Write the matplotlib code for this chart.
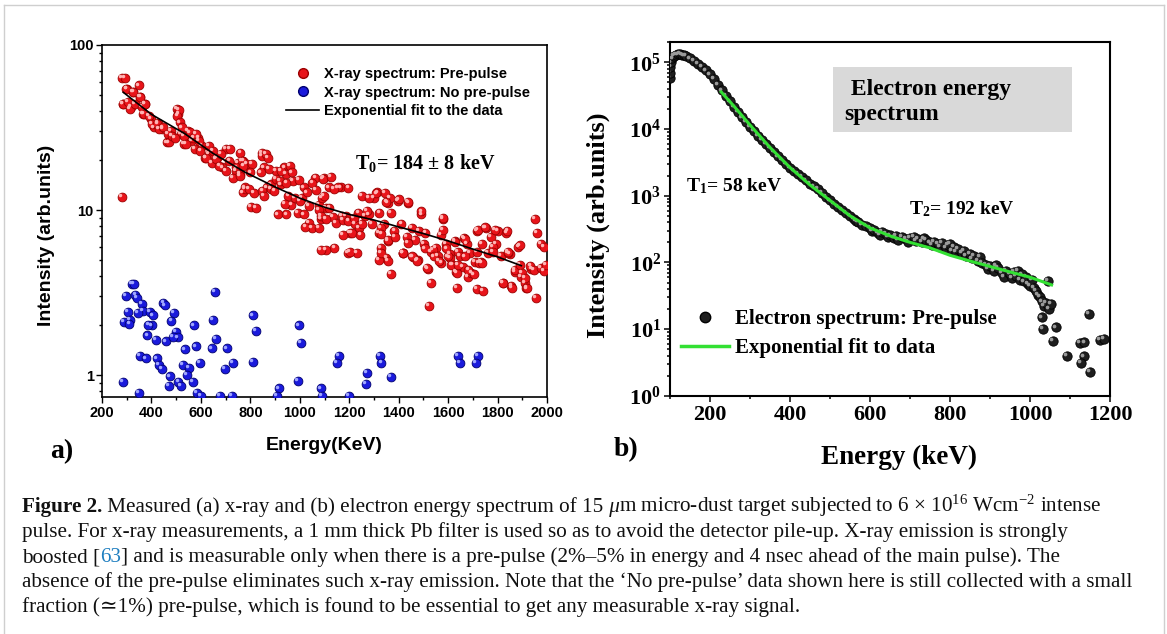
import matplotlib
matplotlib.use("Agg")
import matplotlib.pyplot as plt
from matplotlib.lines import Line2D
from matplotlib.patches import Rectangle
from matplotlib.ticker import MultipleLocator, FuncFormatter, NullFormatter, LogLocator
from matplotlib.transforms import ScaledTranslation

# ---------------- panel a: x-ray spectra (keV, arb. units) ----------------
red_pts = [
    (281, 63), (300, 54), (284, 44), (281, 12), (325, 51.8), (350, 56.9), (316, 42), (353, 48.3),
    (374, 44), (367, 38.2), (398, 35.6), (409, 31.7), (425, 33.6), (444, 31), (462, 25.7), (478, 30.3),
    (503, 40.8), (509, 38.2), (520, 28.9), (531, 25.1), (548, 30.3), (562, 26.3), (576, 23.4), (590, 27.5),
    (604, 24.5), (618, 20.8), (632, 21.8), (643, 19.4), (666, 20.8), (687, 18.1), (701, 23.4), (715, 19.9),
    (750, 19.4), (760, 22.3), (743, 17.3), (778, 13.7), (771, 12.8), (803, 10.5), (847, 22.3), (847, 21.3),
    (854, 18.1), (868, 13.7), (882, 14.3), (903, 17.3), (913, 9.4), (924, 14.3), (938, 18.1), (945, 16.5),
    (954, 12.2), (966, 10.8), (973, 15), (993, 9.6), (1007, 11.9), (1018, 13.7), (1028, 12.8), (1038, 8.4),
    (1049, 7.8), (1063, 15.7), (1077, 10.8), (1084, 8.8), (1091, 11.9), (1098, 15.7), (1105, 10.3),
    (1119, 13.7), (1133, 9.1), (1140, 5.9), (1147, 8.4), (1167, 13.7), (1188, 9.2), (1195, 5.5), (1202, 7.3),
    (1223, 8.2), (1237, 9.6), (1251, 12.2), (1265, 9.2), (1279, 9.4), (1293, 8.2), (1300, 11.9), (1314, 12.8),
    (1321, 7.3), (1328, 5.9), (1341, 8.2), (1355, 11.1), (1369, 9.6), (1383, 7.5), (1397, 11.4), (1411, 8.2),
    (1418, 5.5), (1432, 6.9), (1439, 11.1), (1453, 7.8), (1467, 6.6), (1481, 7.5), (1492, 9.4), (1502, 6.2),
    (1508, 7.3), (1529, 5.6), (1550, 5.9), (1571, 7.1), (1578, 8.8), (1592, 6.2), (1606, 5.4), (1627, 6.5),
    (1641, 5.6), (1664, 6.8), (1676, 6.2), (1689, 5.5), (1717, 7.5), (1738, 6.2), (1752, 7.8), (1773, 6.9),
    (1794, 6.2), (1801, 7.5), (1836, 7.3), (1849, 5.4), (1884, 6.0), (1951, 8.8), (1958, 7.3), (1975, 6.2),
    (1989, 6.0),
    (292, 63.3), (299, 54.3), (327, 51.8), (285, 44), (306, 45), (313, 41), (334, 44), (355, 48.3),
    (362, 42), (375, 44), (368, 38.2), (389, 37.3), (403, 33.2), (424, 33.2), (431, 31), (445, 31.7),
    (466, 28.9), (470, 25.7), (484, 28.2), (494, 27.5), (512, 40.5), (505, 37.3), (515, 34), (522, 31.7),
    (531, 28.2), (540, 25.1), (556, 29.5), (570, 27.5), (581, 28.9), (591, 26.3), (598, 22.9), (619, 20.8),
    (633, 24.5), (647, 22.9), (661, 20.4), (675, 18.5), (682, 21.8), (702, 17.3), (717, 23.4), (730, 15.7),
    (744, 18.1), (758, 16.5), (772, 19.9), (779, 13.4), (786, 19),
    (765, 19.9), (772, 18.5), (807, 19), (800, 16.9), (758, 16.1), (863, 21.8), (870, 20.8), (842, 16.9),
    (876, 17.7), (904, 15.4), (925, 17.3), (960, 18.5), (967, 16.9), (995, 15.2), (793, 13.4), (814, 12.7),
    (849, 13.1), (856, 12.2), (884, 13.4), (897, 13.1), (918, 15), (946, 14.6), (1051, 14.6), (1092, 15.4),
    (1127, 15.9), (1064, 13.2), (1099, 12.2), (1155, 13.7), (1197, 13.6), (1138, 13.4), (821, 10.3),
    (939, 10.9), (946, 9.4), (981, 11.9), (1002, 11.4), (1016, 9.4), (1036, 10.6), (1078, 10), (1085, 9.2),
    (1106, 8.8), (1120, 10.3), (1169, 9.2), (1175, 8.7), (1197, 8.6), (1218, 9.0), (1239, 7.8), (1252, 8.2),
    (1175, 7.1), (1211, 7.3), (1245, 7.1), (1273, 9.9), (1280, 11.9), (1322, 9.6), (1329, 7.8), (1357, 6.5),
    (1364, 11.9), (1343, 12.7), (1023, 7.9), (1078, 7.8), (1106, 5.7), (1231, 5.5), (1350, 5.1), (1357, 4.9),
    (1310, 12.6), (1350, 11.2), (1400, 11.6), (1438, 11.2), (1492, 9.8), (1579, 9.0), (1579, 7.6),
    (1627, 6.4), (1667, 6.7), (1721, 7.6), (1748, 7.85), (1788, 7.6), (1840, 7.45), (1890, 6.1), (1330, 7.2),
    (1357, 6.6), (1384, 6.9), (1418, 5.5), (1438, 6.3), (1458, 5.2), (1478, 5.0), (1505, 5.85), (1519, 4.4),
    (1539, 5.7), (1559, 5.3), (1573, 4.8), (1593, 5.85), (1606, 5.1), (1620, 4.65), (1633, 4.2), (1647, 5.3),
    (1660, 4.5), (1680, 3.95), (1694, 4.15), (1707, 4.85), (1734, 4.85), (1761, 5.5), (1782, 6.0), (1815, 5.3),
    (1822, 3.6), (1842, 5.5), (1856, 3.45), (1869, 4.2), (1896, 3.95), (1910, 3.6), (1917, 3.35), (1937, 4.4),
    (1084, 5.74), (1202, 5.6), (1321, 5.0), (1328, 5.5), (1369, 4.12), (1418, 5.5), (1453, 5.23), (1474, 4.9),
    (1515, 4.46), (1522, 2.62), (1529, 3.61), (1543, 5.23), (1564, 4.9), (1599, 5.23), (1613, 4.66),
    (1634, 4.16), (1641, 4.66), (1634, 3.37), (1669, 5.23), (1682, 4.36), (1703, 4.07), (1717, 5.6),
    (1724, 4.77), (1717, 3.33), (1742, 3.22), (1738, 4.77), (1780, 5.6), (1822, 3.61), (1843, 5.6),
    (1857, 3.37), (1870, 4.36), (1891, 4.66), (1898, 4.16), (1912, 3.88), (1919, 3.37), (1933, 4.56),
    (1947, 4.36), (1954, 2.93), (1975, 4.46), (1989, 4.26), (1996, 4.66),
]
blue_pts = [
    (322, 3.57), (329, 3.57), (297, 3.0), (335, 3.05), (342, 2.94), (304, 2.41), (314, 2.15), (290, 2.1),
    (311, 2.03), (360, 2.7), (364, 2.46), (346, 2.38), (395, 2.42), (406, 2.3), (402, 2.0), (388, 2.02),
    (384, 1.74), (417, 1.63), (459, 1.6), (448, 2.74), (455, 2.64), (492, 2.38), (481, 2.13), (498, 1.82),
    (507, 1.69), (487, 1.71), (534, 1.43), (573, 2.0), (580, 1.49), (597, 1.18), (650, 2.15), (657, 3.19),
    (643, 1.45), (662, 1.66), (353, 1.3), (378, 1.26), (423, 1.26), (430, 1.15), (441, 1.09), (527, 1.15),
    (551, 1.1), (542, 1.0), (476, 0.98), (509, 0.91), (520, 0.86), (470, 0.86), (567, 0.91), (286, 0.91),
    (350, 0.78), (583, 0.78), (601, 0.75), (676, 0.75), (726, 0.75), (704, 1.45), (729, 1.18), (698, 1.09),
    (812, 2.3), (822, 1.85), (810, 1.2), (996, 2.0), (1003, 1.57), (991, 0.92), (917, 0.83), (907, 0.75),
    (1084, 0.83), (1088, 0.75), (1158, 1.3), (1151, 1.18), (1199, 0.75), (1272, 1.03), (1268, 0.88),
    (1325, 1.3), (1330, 1.18), (1369, 0.97), (1641, 1.3), (1648, 1.18), (1721, 1.3), (1714, 1.18),
]
fit_a_e = [286, 400, 535, 650, 777, 900, 1000, 1100, 1200, 1300, 1400, 1500, 1600, 1700, 1800, 1896]
fit_a_v = [51.7, 38, 29, 22, 17, 13.8, 11.8, 10.4, 9.4, 8.7, 7.9, 7.2, 6.5, 5.8, 5.2, 4.6]
legend_a = ["X-ray spectrum: Pre-pulse", "X-ray spectrum: No pre-pulse", "Exponential fit to the data"]

# ---------------- panel b: electron spectrum ----------------
el_pts = [
    (100, 5.8e4), (100, 7.0e4), (101, 8.5e4), (103, 1.0e5), (106, 1.15e5), (110, 1.25e5), (115, 1.3e5),
    (120, 1.32e5), (125, 1.33e5), (130, 1.3e5), (135, 1.27e5), (140, 1.24e5), (150, 1.15e5), (160, 1.06e5),
    (170, 9.6e4), (180, 8.6e4), (190, 7.6e4), (200, 6.6e4), (210, 5.6e4), (220, 4.6e4), (230, 3.8e4),
    (240, 3.1e4), (250, 2.6e4), (260, 2.15e4), (270, 1.8e4), (280, 1.5e4), (290, 1.28e4), (300, 1.08e4),
    (310, 9.3e3), (320, 8.0e3), (330, 6.9e3), (340, 6.0e3), (350, 5.2e3), (360, 4.5e3), (370, 3.9e3),
    (380, 3.4e3), (390, 3.0e3), (400, 2.65e3), (410, 2.35e3), (420, 2.1e3), (430, 1.9e3), (440, 1.7e3),
    (450, 1.52e3), (460, 1.38e3), (470, 1.25e3), (480, 1.1e3), (490, 960), (500, 850), (510, 760),
    (520, 680), (530, 610), (540, 550), (550, 500), (560, 450), (565, 420), (570, 400), (580, 370),
    (590, 350), (600, 330), (605, 300), (610, 310), (620, 280), (625, 260), (630, 290), (640, 265),
    (645, 240), (650, 255), (660, 235), (665, 250), (670, 215), (680, 240), (690, 225), (695, 205),
    (700, 235), (710, 240), (715, 210), (720, 225), (730, 205), (735, 230), (740, 215), (750, 200),
    (755, 185), (760, 205), (770, 190), (775, 170), (780, 195), (790, 165), (795, 185), (800, 190),
    (805, 150), (810, 170), (815, 145), (820, 160), (830, 140), (835, 150), (840, 125), (850, 135),
    (855, 115), (860, 125), (870, 105), (875, 120), (880, 98), (890, 92), (895, 80), (900, 88), (910, 75),
    (915, 90), (920, 82), (930, 70), (935, 60), (940, 75), (950, 68), (955, 58), (960, 72), (965, 62),
    (970, 74), (975, 55), (980, 66), (985, 52), (990, 60), (995, 48), (1000, 45), (1005, 55), (1010, 41),
    (1015, 37), (1020, 33), (1025, 30), (1030, 26), (1035, 22), (1040, 25), (1045, 53), (1048, 20),
    (1052, 24), (1030, 15), (1033, 10.1), (1065, 10.6), (1057, 6.7), (1092, 4.0), (1125, 6.2), (1136, 6.3),
    (1134, 3.9), (1127, 3.1), (1148, 16.8), (1149, 2.3), (1175, 6.9), (1184, 7.1),
]
fit_b_e = [228, 260, 300, 350, 400, 450, 500, 550, 600, 650, 700, 750, 800, 850, 900, 950, 1000, 1054]
fit_b_v = [3.6e4, 2.2e4, 1.15e4, 5.3e3, 2.65e3, 1.45e3, 850, 500, 330, 250, 200, 165, 128, 105, 87, 72, 60, 46]
legend_b = ["Electron spectrum: Pre-pulse", "Exponential fit to data"]

red_e = [p[0] for p in red_pts]
red_v = [p[1] for p in red_pts]
blue_e = [p[0] for p in blue_pts]
blue_v = [p[1] for p in blue_pts]
el_e = [p[0] for p in el_pts]
el_v = [p[1] for p in el_pts]

SANS = "Liberation Sans"
SERIF = ["Liberation Serif", "DejaVu Serif"]
plt.rcParams["mathtext.default"] = "regular"
plt.rcParams["font.family"] = SANS
plt.rcParams["font.weight"] = "bold"
plt.rcParams["axes.labelweight"] = "bold"

W, H = 1167, 634
fig = plt.figure(figsize=(W / 100, H / 100), dpi=100)


def frac(x0, y0, x1, y1):
    # pixel box (top-left origin) -> figure fraction rect
    return [x0 / W, 1 - y1 / H, (x1 - x0) / W, (y1 - y0) / H]


def balls(ax, x, y, face, edge, shine, size):
    ax.scatter(x, y, s=size, c=face, edgecolors=edge, linewidths=0.6, zorder=3)
    glint = ax.transData + ScaledTranslation(-1.3 / 72, 1.3 / 72, fig.dpi_scale_trans)
    ax.scatter(x, y, s=size * 0.16, c=shine, linewidths=0, zorder=3, transform=glint)


def bold_ticks(ax):
    for lab in ax.get_xticklabels() + ax.get_yticklabels():
        lab.set_fontweight("bold")


# --- panel a ---
ax1 = fig.add_axes(frac(102, 45, 547, 397.3))
balls(ax1, red_e, red_v, "#e8141a", "#9c0000", "#ffb4b4", 40)
balls(ax1, blue_e, blue_v, "#1a1adc", "#00006e", "#a0a6ff", 40)
ax1.plot(fit_a_e, fit_a_v, color="black", lw=1.2, zorder=4)
ax1.set_yscale("log")
ax1.set_xlim(200, 2000)
ax1.set_ylim(0.733, 100)
ax1.xaxis.set_major_locator(MultipleLocator(200))
ax1.xaxis.set_minor_locator(MultipleLocator(100))
ax1.yaxis.set_major_formatter(FuncFormatter(lambda v, p: "%g" % v))
ax1.yaxis.set_minor_formatter(NullFormatter())
ax1.tick_params(which="both", direction="out", width=1, labelsize=10.5, pad=2)
ax1.tick_params(which="major", length=4)
ax1.tick_params(which="minor", length=2.5)
bold_ticks(ax1)
for sp in ax1.spines.values():
    sp.set_linewidth(1.2)
ax1.set_xlabel("Energy(KeV)", fontsize=14, fontweight="bold", va="center")
ax1.xaxis.set_label_coords(0.5, -0.138)
ax1.set_ylabel("Intensity (arb.units)", fontsize=14, fontweight="bold", va="center")
ax1.yaxis.set_label_coords(-0.124, 0.461)

hand_a = [
    Line2D([], [], ls="none", marker="o", ms=7, mfc="#e8141a", mec="#9c0000"),
    Line2D([], [], ls="none", marker="o", ms=7, mfc="#1a1adc", mec="#00006e"),
    Line2D([], [], color="black", lw=1.2),
]
ax1.legend(hand_a, legend_a, loc="upper left", bbox_to_anchor=(0.413, 0.937), frameon=False,
           borderpad=0, borderaxespad=0, handlelength=2.3, handletextpad=0.3, labelspacing=0.3,
           prop=dict(family=SANS, weight="bold", size=10.5))
ax1.text(0.569, 0.664, "T$_0$= 184 ± 8 keV", transform=ax1.transAxes, family=SERIF,
         fontsize=14.5, fontweight="bold", ha="left", va="center")

# --- panel b ---
ax2 = fig.add_axes(frac(670, 42.3, 1110, 395.8))
ax2.add_patch(Rectangle((0.371, 0.747), 0.543, 0.184, transform=ax2.transAxes,
                        facecolor="#d9d9d9", edgecolor="none", zorder=1))
ax2.text(0.397, 0.83, " Electron energy\nspectrum", transform=ax2.transAxes, family=SERIF,
         fontsize=17, fontweight="bold", ha="left", va="center", linespacing=1.25, zorder=2)
balls(ax2, el_e, el_v, "#1e1e1e", "#000000", "#9a9a9a", 45)
ax2.plot(fit_b_e, fit_b_v, color="#33e033", lw=2.2, zorder=4)
ax2.set_yscale("log")
ax2.set_xlim(100, 1200)
ax2.set_ylim(1, 2.0e5)
ax2.xaxis.set_major_locator(MultipleLocator(200))
ax2.xaxis.set_minor_locator(MultipleLocator(100))
ax2.yaxis.set_major_locator(LogLocator(base=10, numticks=10))
ax2.yaxis.set_minor_locator(LogLocator(base=10, subs=range(2, 10), numticks=20))
ax2.yaxis.set_minor_formatter(NullFormatter())
ax2.tick_params(which="both", direction="out", width=1.1, labelsize=16, pad=2, labelfontfamily=SERIF[0])
ax2.tick_params(which="major", length=4.5)
ax2.tick_params(which="minor", length=2.5)
bold_ticks(ax2)
for sp in ax2.spines.values():
    sp.set_linewidth(1.5)
ax2.set_xlabel("Energy (keV)", family=SERIF, fontsize=19.5, fontweight="bold", va="center")
ax2.xaxis.set_label_coords(0.52, -0.173)
ax2.set_ylabel("Intensity (arb.units)", family=SERIF, fontsize=19, fontweight="bold", va="center")
ax2.yaxis.set_label_coords(-0.163, 0.483)
ax2.text(0.0355, 0.594, "T$_1$= 58 keV", transform=ax2.transAxes, family=SERIF, fontsize=14,
         fontweight="bold", ha="left", va="center")
ax2.text(0.543, 0.528, "T$_2$= 192 keV", transform=ax2.transAxes, family=SERIF, fontsize=14,
         fontweight="bold", ha="left", va="center")
hand_b = [
    Line2D([], [], ls="none", marker="o", ms=7.5, mfc="#1e1e1e", mec="#000000"),
    Line2D([], [], color="#33e033", lw=2.5),
]
ax2.legend(hand_b, legend_b, loc="upper left", bbox_to_anchor=(0.025, 0.245), frameon=False,
           borderpad=0, borderaxespad=0, handlelength=2.3, handletextpad=0.3, labelspacing=0.42,
           prop=dict(family=SERIF[0], weight="bold", size=15))

fig.text(62 / W, 1 - 452 / H, "a)", family=SERIF, fontsize=20, fontweight="bold", ha="center", va="center")
fig.text(626 / W, 1 - 450 / H, "b)", family=SERIF, fontsize=20, fontweight="bold", ha="center", va="center")

# --- caption ---
renderer = fig.canvas.get_renderer()


def caption_line(base_y, pieces, x=22, size=15.2):
    for s, kw in pieces:
        style = dict(weight="normal", color="#111111")
        style.update(kw)
        t = fig.text(x / W, 1 - base_y / H, s, family=SERIF, fontsize=size, ha="left",
                     va="baseline", **style)
        x = t.get_window_extent(renderer).x1


caption_line(512, [("Figure 2.", dict(weight="bold")),
                   (" Measured (a) x-ray and (b) electron energy spectrum of 15", {}),
                   (" \u03bc", dict(style="italic")),
                   ("m micro-dust target subjected to 6 \u00d7 10$^{16}$ Wcm$^{-2}$ intense", {})])
caption_line(537, [("pulse. For x-ray measurements, a 1 mm thick Pb filter is used so as to avoid the "
                    "detector pile-up. X-ray emission is strongly", {})])
caption_line(562, [("boosted [", {}), ("63", dict(color="#1f7fc0")),
                   ("] and is measurable only when there is a pre-pulse (2%\u20135% in energy and "
                    "4 nsec ahead of the main pulse). The", {})])
caption_line(587, [("absence of the pre-pulse eliminates such x-ray emission. Note that the "
                    "\u2018No pre-pulse\u2019 data shown here is still collected with a small", {})])
caption_line(612, [("fraction (\u22431%) pre-pulse, which is found to be essential to get any "
                    "measurable x-ray signal.", {})])

# light frame around the figure
for xs, ys in [((3.5, 3.5), (5, 634)), ((1163.5, 1163.5), (5, 634)), ((3.5, 1163.5), (5, 5))]:
    fig.add_artist(Line2D([x / W for x in xs], [1 - y / H for y in ys], color="#cfcfcf", lw=1))

fig.savefig("out.png", dpi=100)
